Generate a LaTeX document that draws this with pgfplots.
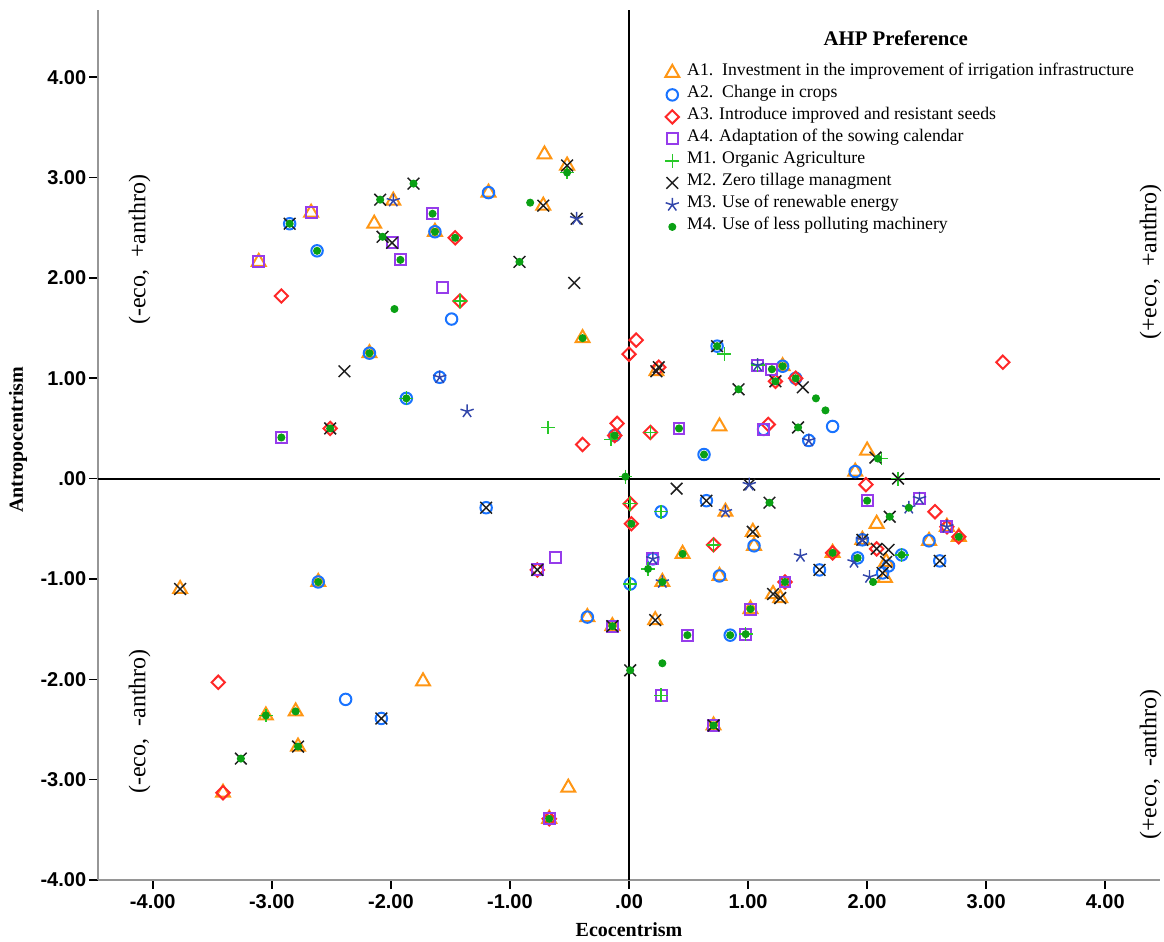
\documentclass[border=0pt]{standalone}
\usepackage{fontspec}
\setmainfont{Liberation Serif}
\newfontfamily\arialf{Liberation Sans}
\usepackage{pgfplots}
\pgfplotsset{compat=1.18}
\definecolor{cA1}{RGB}{255,150,20}
\definecolor{cA2}{RGB}{25,115,255}
\definecolor{cA3}{RGB}{255,40,40}
\definecolor{cA4}{RGB}{150,60,235}
\definecolor{cM1}{RGB}{40,200,40}
\definecolor{cM2}{RGB}{30,30,30}
\definecolor{cM3}{RGB}{50,70,170}
\definecolor{cM4}{RGB}{10,160,20}
\definecolor{axgray}{RGB}{150,150,150}
\begin{document}
\begin{tikzpicture}
\useasboundingbox (0,0) rectangle (436.5pt,352.875pt);
\begin{axis}[
  at={(36.75pt,22.875pt)}, anchor=south west,
  scale only axis, width=398.25pt, height=326.25pt,
  xmin=-4.46, xmax=4.46, ymin=-4.0, ymax=4.67,
  axis x line*=bottom, axis y line*=left,
  axis line style={axgray, line width=1.1pt, -},
  tick align=outside, major tick length=3.3pt,
  tick style={black, line width=0.6pt},
  xtick={-4,-3,-2,-1,0,1,2,3,4}, ytick={-4,-3,-2,-1,0,1,2,3,4},
  xticklabels={-4.00,-3.00,-2.00,-1.00,.00,1.00,2.00,3.00,4.00},
  yticklabels={-4.00,-3.00,-2.00,-1.00,.00,1.00,2.00,3.00,4.00},
  ticklabel style={font=\arialf\bfseries\fontsize{7.5}{8}\selectfont},
  yticklabel style={xshift=2.4pt},
  xticklabel style={yshift=1.5pt},
  xlabel={Ecocentrism}, ylabel={Antropocentrism},
  xlabel style={at={(axis description cs:0.5,-0.0575)}, anchor=center, font=\bfseries\fontsize{7.5}{8}\selectfont},
  ylabel style={at={(axis description cs:-0.0753,0.506)}, anchor=center, font=\bfseries\fontsize{7.5}{8}\selectfont},
  legend cell align=left,
  legend style={at={(axis description cs:0.5262,0.9471)}, anchor=north west, draw=none, fill=none,
    font=\fontsize{6.65}{7}\selectfont,
    nodes={inner sep=0pt, text height=5pt, text depth=3.25pt, anchor=west},
    row sep=0pt, column sep=3pt},
  legend image code/.code={\draw[mark repeat=2,mark phase=2,#1] plot coordinates {(0pt,0pt)(4pt,0pt)(8pt,0pt)};},
  clip=false,
]
\addplot[black, line width=0.75pt, forget plot] coordinates {(0,-4) (0,4.67)};
\addplot[black, line width=0.75pt, forget plot] coordinates {(-4.46,0) (4.46,0)};

% A1
\addplot[only marks, mark=triangle, mark size=3.0pt, color=cA1, mark options={line width=0.75pt}] coordinates {
(-0.71,3.23) (-0.52,3.12) (-0.72,2.72) (-1.18,2.85) (-1.63,2.46) (-0.39,1.40) (-1.98,2.77) (-2.67,2.65) (-2.14,2.54) (-3.11,2.16) (-2.18,1.25) (0.23,1.07) (1.29,1.12) (0.76,0.52) (2.00,0.28) (1.90,0.07) (2.67,-0.48) (2.77,-0.58) (2.52,-0.62) (2.08,-0.45) (1.96,-0.61) (1.71,-0.74) (2.16,-0.83) (2.15,-0.99) (0.81,-0.33) (1.04,-0.53) (1.05,-0.67) (0.45,-0.75) (0.28,-1.03) (0.76,-0.97) (1.21,-1.15) (1.27,-1.19) (1.02,-1.30) (0.22,-1.41) (0.71,-2.46) (-0.35,-1.38) (-0.14,-1.47) (-0.51,-3.08) (-0.67,-3.39) (-2.61,-1.03) (-3.77,-1.10) (-1.73,-2.02) (-3.05,-2.36) (-2.80,-2.32) (-2.78,-2.67) (-3.41,-3.13)
};
\addlegendentry{A1.\ \ Investment in the improvement of irrigation infrastructure}
% A2
\addplot[only marks, mark=o, mark size=2.15pt, color=cA2, mark options={line width=0.75pt}] coordinates {
(-1.18,2.85) (-1.63,2.46) (-2.85,2.54) (-2.62,2.27) (-1.49,1.59) (-1.59,1.01) (-2.18,1.25) (-1.87,0.80) (-0.12,0.43) (0.74,1.32) (1.29,1.12) (1.40,1.00) (1.13,0.49) (1.71,0.52) (1.51,0.38) (0.63,0.24) (1.90,0.07) (2.52,-0.62) (2.61,-0.82) (2.29,-0.76) (1.96,-0.61) (1.92,-0.79) (2.18,-0.87) (2.13,-0.94) (1.60,-0.91) (0.27,-0.33) (0.65,-0.22) (1.05,-0.67) (0.20,-0.80) (0.01,-1.05) (0.76,-0.97) (0.85,-1.56) (-0.35,-1.38) (-1.20,-0.29) (-2.61,-1.03) (-2.38,-2.20) (-2.08,-2.39)
};
\addlegendentry{A2.\ \ Change in crops}
% A3
\addplot[only marks, mark=diamond, mark size=2.5pt, color=cA3, mark options={line width=0.75pt, xscale=1.33}] coordinates {
(-1.46,2.40) (-1.42,1.77) (-0.39,0.34) (-0.10,0.55) (-0.12,0.43) (0.06,1.38) (0.00,1.24) (0.25,1.11) (1.23,0.97) (1.40,1.00) (0.18,0.46) (1.17,0.54) (-2.92,1.82) (-2.51,0.50) (3.14,1.16) (2.57,-0.33) (2.67,-0.48) (2.77,-0.58) (1.99,-0.06) (1.71,-0.74) (2.08,-0.70) (0.01,-0.25) (0.02,-0.45) (0.71,-0.66) (1.31,-1.03) (-0.67,-3.39) (-0.77,-0.91) (-3.45,-2.03) (-3.41,-3.13)
};
\addlegendentry{A3. Introduce improved and resistant seeds}
% A4
\addplot[only marks, mark=square, mark size=2.05pt, color=cA4, mark options={line width=0.75pt}] coordinates {
(-1.65,2.64) (-2.67,2.65) (-1.99,2.35) (-3.11,2.16) (-1.92,2.18) (-1.57,1.90) (-2.92,0.41) (1.08,1.13) (1.20,1.09) (0.42,0.50) (1.13,0.49) (2.44,-0.20) (2.67,-0.48) (2.00,-0.22) (0.20,-0.80) (1.31,-1.03) (1.02,-1.30) (0.49,-1.56) (0.98,-1.55) (0.27,-2.16) (0.71,-2.46) (-0.14,-1.47) (-0.67,-3.39) (-0.62,-0.79) (-0.77,-0.91)
};
\addlegendentry{A4. Adaptation of the sowing calendar}
% M1
\addplot[only marks, mark=+, mark size=2.6pt, color=cM1, mark options={line width=0.55pt}] coordinates {
(-0.52,3.05) (-1.42,1.77) (-1.87,0.80) (-0.68,0.51) (-0.15,0.39) (0.80,1.24) (1.08,1.13) (0.18,0.46) (2.12,0.20) (2.26,0.00) (2.29,-0.76) (0.01,-0.25) (0.27,-0.33) (0.71,-0.66) (0.16,-0.90) (0.01,-1.05) (0.98,-1.55) (0.27,-2.16) (-3.05,-2.36) (-0.03,0.02)
};
\addlegendentry{M1. Organic Agriculture}
% M2
\addplot[only marks, mark=x, mark size=3.1pt, color=cM2, mark options={line width=0.55pt}] coordinates {
(-0.52,3.12) (-0.72,2.72) (-0.44,2.59) (-0.92,2.16) (-0.46,1.95) (-1.81,2.94) (-2.09,2.78) (-2.85,2.54) (-2.07,2.41) (-1.99,2.35) (-2.39,1.07) (-2.51,0.50) (0.25,1.11) (0.23,1.07) (0.74,1.32) (1.23,0.97) (1.46,0.91) (0.92,0.89) (1.42,0.51) (2.07,0.21) (2.26,0.00) (2.61,-0.82) (1.96,-0.61) (2.08,-0.70) (2.18,-0.71) (2.16,-0.83) (2.13,-0.94) (2.19,-0.38) (1.60,-0.91) (0.40,-0.10) (1.01,-0.06) (0.65,-0.22) (1.18,-0.24) (1.04,-0.53) (1.21,-1.15) (1.27,-1.19) (0.22,-1.41) (0.01,-1.91) (0.71,-2.46) (-0.14,-1.47) (-0.77,-0.91) (-1.20,-0.29) (-3.77,-1.10) (-2.08,-2.39) (-2.78,-2.67) (-3.26,-2.79)
};
\addlegendentry{M2. Zero tillage managment}
% M3
\addplot[only marks, mark=star, mark size=2.6pt, color=cM3, mark options={line width=0.55pt}] coordinates {
(-0.44,2.59) (-1.98,2.77) (-1.59,1.01) (-1.36,0.67) (1.08,1.13) (1.51,0.38) (2.44,-0.20) (2.35,-0.29) (2.67,-0.48) (1.96,-0.61) (1.89,-0.83) (2.02,-0.98) (1.01,-0.06) (0.81,-0.33) (0.20,-0.80) (0.28,-1.03) (1.44,-0.77)
};
\addlegendentry{M3. Use of renewable energy}
% M4
\addplot[only marks, mark=*, mark size=1.3pt, color=cM4, mark options={draw=none, fill=cM4}] coordinates {
(-0.52,3.05) (-0.83,2.75) (-1.65,2.64) (-1.63,2.46) (-1.46,2.40) (-0.92,2.16) (-0.39,1.40) (-1.81,2.94) (-2.09,2.78) (-2.85,2.54) (-2.07,2.41) (-2.62,2.27) (-1.92,2.18) (-1.97,1.69) (-2.18,1.25) (-1.87,0.80) (-2.51,0.50) (-2.92,0.41) (-0.12,0.43) (0.74,1.32) (1.20,1.09) (1.29,1.12) (1.23,0.97) (1.40,1.00) (0.92,0.89) (1.57,0.80) (1.65,0.68) (0.42,0.50) (1.42,0.51) (0.63,0.24) (2.09,0.20) (2.35,-0.29) (2.77,-0.58) (2.29,-0.76) (2.00,-0.22) (2.19,-0.38) (1.71,-0.74) (1.92,-0.79) (2.05,-1.03) (1.18,-0.24) (0.02,-0.45) (0.45,-0.75) (0.16,-0.90) (0.28,-1.03) (1.31,-1.03) (1.02,-1.30) (0.49,-1.56) (0.85,-1.56) (0.98,-1.55) (0.01,-1.91) (0.28,-1.84) (0.71,-2.46) (-0.14,-1.47) (-0.67,-3.39) (-2.61,-1.03) (-3.05,-2.36) (-2.80,-2.32) (-2.78,-2.67) (-3.26,-2.79) (-0.03,0.02)
};
\addlegendentry{M4. Use of less polluting machinery}

\node[font=\bfseries\fontsize{7.8}{9}\selectfont] at (axis cs:2.24,4.39) {AHP Preference};
\node[rotate=90, font=\fontsize{9}{10}\selectfont] at (axis cs:-4.11,2.28) {(-eco,\ \ +anthro)};
\node[rotate=90, font=\fontsize{9}{10}\selectfont] at (axis cs:-4.11,-2.42) {(-eco,\ \ -anthro)};
\node[rotate=90, font=\fontsize{9}{10}\selectfont] at (axis cs:4.38,2.16) {(+eco,\ \ +anthro)};
\node[rotate=90, font=\fontsize{9}{10}\selectfont] at (axis cs:4.38,-2.85) {(+eco,\ \ -anthro)};
\end{axis}
\end{tikzpicture}
\end{document}
